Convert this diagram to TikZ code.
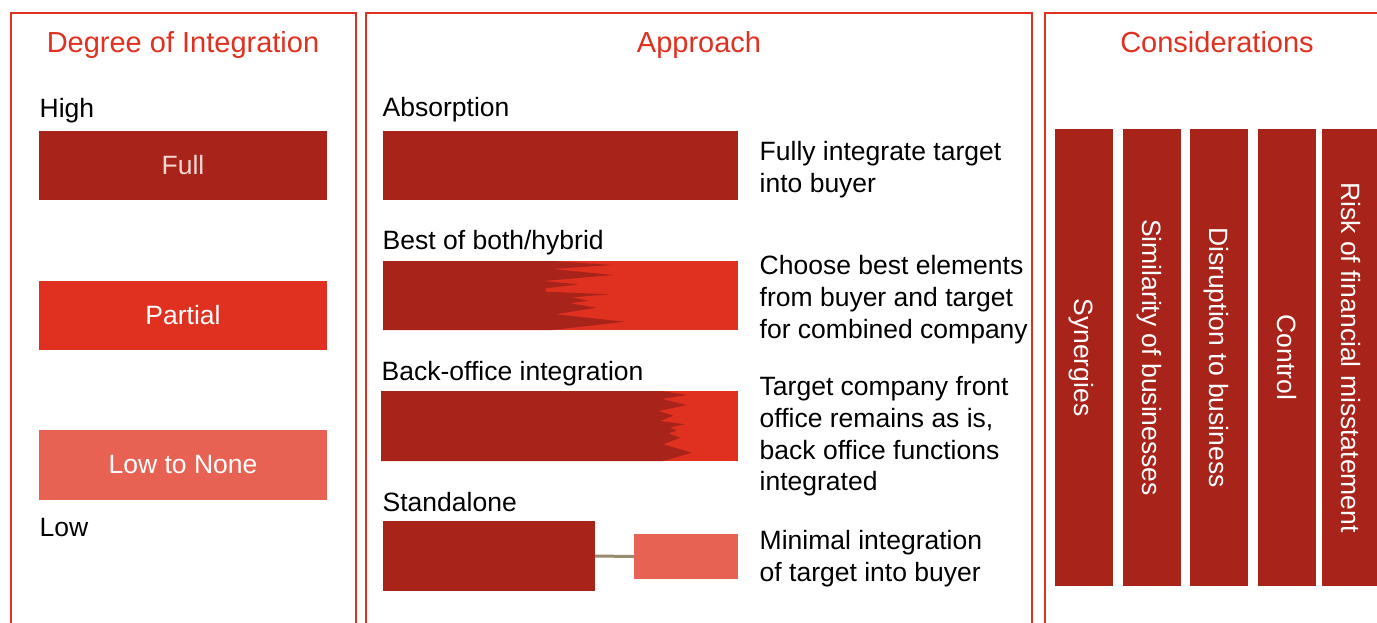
\documentclass[tikz,border=0pt]{standalone}
\usepackage{fontspec}
\setmainfont{Liberation Sans}
\definecolor{darkred}{HTML}{A8231A}
\definecolor{medred}{HTML}{E03020}
\definecolor{lightred}{HTML}{E86254}
\definecolor{connc}{HTML}{9A8C6E}
\definecolor{fulltext}{HTML}{F2D8D4}
\begin{document}
\begin{tikzpicture}[x=1pt,y=-1pt,
  panel/.style={draw=medred, line width=2pt},
  blk/.style={inner sep=0pt, outer sep=0pt, anchor=north west, draw=none},
  bodytxt/.style={font=\fontsize{26.5}{32}\selectfont, inner sep=0pt, text=black, anchor=base west},
  ttl/.style={font=\fontsize{29}{34}\selectfont, text=medred, inner sep=0pt, anchor=base},
  lbl/.style={font=\fontsize{26.5}{32}\selectfont, text=white},
  vbar/.style={blk, fill=darkred, minimum width=58pt, minimum height=457pt},
  vlbl/.style={rotate=-90, font=\fontsize{26.5}{32}\selectfont, text=white, text height=19pt, text depth=0pt, inner sep=0pt},
  conn/.style={draw=connc, line width=3pt}]
\useasboundingbox (0,0) rectangle (1377,622);
\clip (0,0) rectangle (1377,622);
\fill[white] (0,0) rectangle (1377,622);

% panels
\draw[panel] (11,13) rectangle (356,660);
\draw[panel] (366,13) rectangle (1032,660);
\draw[panel] (1045,13) rectangle (1400,660);

% titles
\node[ttl] (t1) at (183,52) {Degree of Integration};
\node[ttl] (t2) at (699,52) {Approach};
\node[ttl] (t3) at (1217,52) {Considerations};

% left panel
\node[bodytxt] (high) at (39.5,117) {High};
\node[blk, fill=darkred, minimum width=288pt, minimum height=69pt, lbl, text=fulltext] (full) at (39,131) {Full};
\node[blk, fill=medred, minimum width=288pt, minimum height=69pt, lbl] (partial) at (39,281) {Partial};
\node[blk, fill=lightred, minimum width=288pt, minimum height=70pt, lbl] (lownone) at (39,430) {Low to None};
\node[bodytxt] (low) at (39.5,536) {Low};

% middle panel labels
\node[bodytxt] (abs) at (382.5,116.7) {Absorption};
\node[bodytxt] (hyb) at (382.5,249.3) {Best of both/hybrid};
\node[bodytxt] (bo) at (381.5,380) {Back-office integration};
\node[bodytxt] (sta) at (382.5,511.7) {Standalone};

% absorption bar
\node[blk, fill=darkred, minimum width=355pt, minimum height=69pt] (absbar) at (383,131) {};

% hybrid bar
\fill[medred] (535,261) rectangle (738,330);
\fill[darkred] (383,261) -- (551.7,261) -- (611.7,265) -- (551.7,269) -- (613.3,275) -- (543.3,281)
  -- (578.3,284.3) -- (545.7,288.3) -- (545.7,291.7) -- (610,294.3) -- (571.7,297.3) -- (588.3,300.7)
  -- (570,303.3) -- (596.7,307.7) -- (555,314.3) -- (625,321.7) -- (551.7,330) -- (383,330) -- cycle;

% back-office bar
\fill[medred] (650,391) rectangle (738,461);
\fill[darkred] (381,391) -- (661.7,391) -- (686.7,395) -- (661.7,399) -- (686.7,405) -- (658.3,411)
  -- (673.3,415.7) -- (660,421) -- (685,424.3) -- (670,427.3) -- (676.7,430.7) -- (668.3,433.3)
  -- (680,437.7) -- (663.3,444.3) -- (691.7,452.7) -- (663.3,461) -- (381,461) -- cycle;

% standalone
\node[blk, fill=darkred, minimum width=212pt, minimum height=70pt] (sa) at (383,521) {};
\node[blk, fill=lightred, minimum width=104pt, minimum height=45pt] (sb) at (634,534) {};
\draw[conn] (sa.east) -- (sb.west);

% descriptions
\node[bodytxt] (d1a) at (759.5,160) {Fully integrate target};
\node[bodytxt] (d1b) at (759.5,192) {into buyer};
\node[bodytxt] (d2a) at (759.5,274) {Choose best elements};
\node[bodytxt] (d2b) at (759.5,306) {from buyer and target};
\node[bodytxt] (d2c) at (759.5,338) {for combined company};
\node[bodytxt] (d3a) at (759.5,395) {Target company front};
\node[bodytxt] (d3b) at (759.5,427) {office remains as is,};
\node[bodytxt] (d3c) at (759.5,459) {back office functions};
\node[bodytxt] (d3d) at (759.5,490.5) {integrated};
\node[bodytxt] (d4a) at (759.5,549) {Minimal integration};
\node[bodytxt] (d4b) at (759.5,581.5) {of target into buyer};

% considerations
\node[vbar] (c1) at (1055,129) {};
\node[vbar] (c2) at (1123,129) {};
\node[vbar] (c3) at (1190,129) {};
\node[vbar] (c4) at (1258,129) {};
\node[vbar] (c5) at (1322,129) {};
\node[vlbl] (l1) at (c1.center) {Synergies};
\node[vlbl] (l2) at (c2.center) {Similarity of businesses};
\node[vlbl] (l3) at (c3.center) {Disruption to business};
\node[vlbl] (l4) at (c4.center) {Control};
\node[vlbl] (l5) at (c5.center) {Risk of financial misstatement};
\end{tikzpicture}
\end{document}
